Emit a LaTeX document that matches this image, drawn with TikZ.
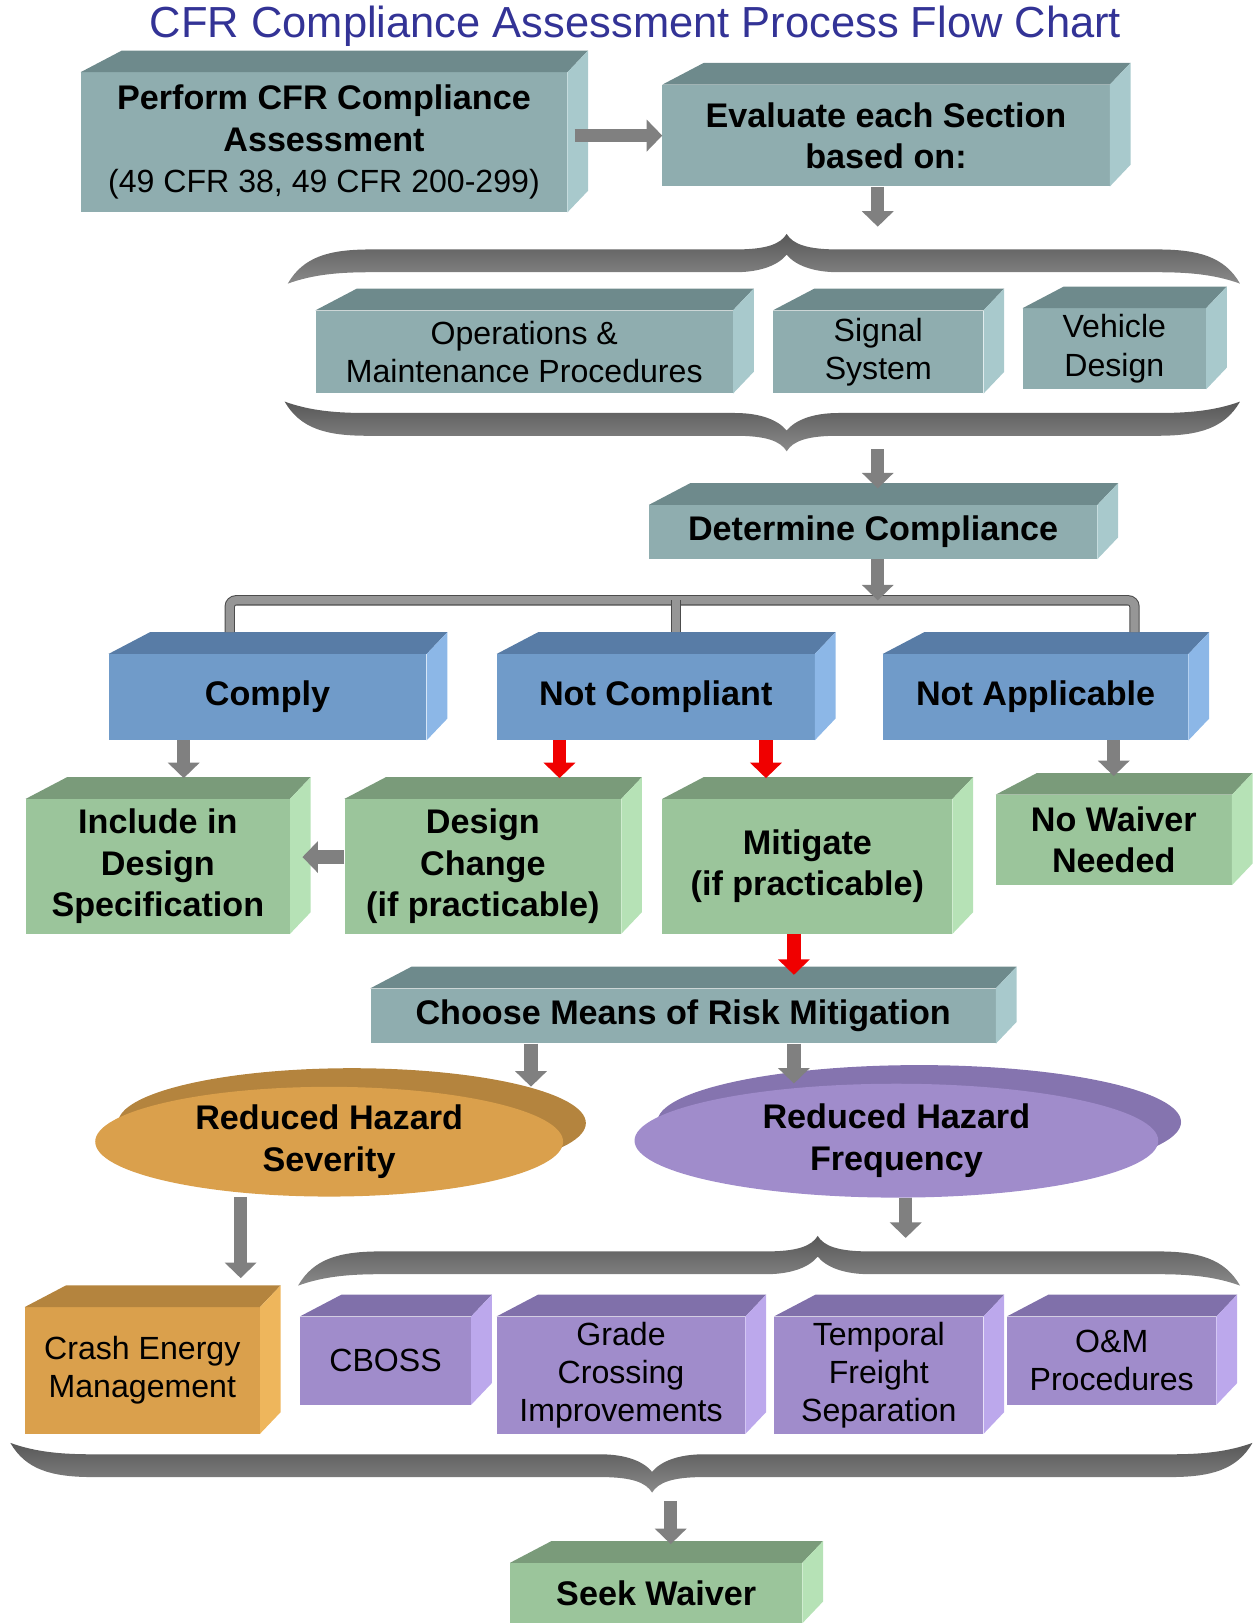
\documentclass[tikz,border=0pt]{standalone}
\usepackage{fontspec}
\setmainfont{Liberation Sans}
\usepackage{xcolor}
\usepackage{tikz}
\usetikzlibrary{positioning,arrows.meta,calc,shapes.geometric}

\definecolor{frontteal}{RGB}{143,173,175}
\definecolor{topteal}{RGB}{110,138,140}
\definecolor{sideteal}{RGB}{168,201,204}
\definecolor{frontblue}{RGB}{112,155,201}
\definecolor{topblue}{RGB}{88,124,166}
\definecolor{sideblue}{RGB}{140,183,231}
\definecolor{frontgreen}{RGB}{155,197,155}
\definecolor{topgreen}{RGB}{122,155,122}
\definecolor{sidegreen}{RGB}{182,226,182}
\definecolor{frontorange}{RGB}{218,160,76}
\definecolor{toporange}{RGB}{180,132,62}
\definecolor{sideorange}{RGB}{238,182,92}
\definecolor{frontpurple}{RGB}{160,140,203}
\definecolor{toppurple}{RGB}{128,112,170}
\definecolor{sidepurple}{RGB}{188,168,236}
\definecolor{titleblue}{RGB}{51,51,150}
\definecolor{arrowgray}{RGB}{128,128,128}
\definecolor{arrowred}{RGB}{240,0,0}
\definecolor{forkgray}{RGB}{150,150,150}
\definecolor{bracedark}{RGB}{88,88,88}
\definecolor{bracelight}{RGB}{138,138,138}

\newcommand{\boldtext}{\bfseries\fontsize{33}{40}\selectfont}
\newcommand{\plaintext}{\mdseries\fontsize{31}{37}\selectfont}
\newcommand{\titletext}{\fontsize{42}{50}\selectfont}

% curly brace band: left x, tip x, right x, centre y, direction (1 = tip up, -1 = tip down)
\newcommand{\flowbrace}[5]{%
  \shade[top color=bracedark, bottom color=bracelight]
    ({#1},{#4+(#5)*22})
    .. controls ({#1+15},{#4+(#5)*(-4)}) and ({#1+40},{#4+(#5)*(-11)}) .. ({#1+80},{#4+(#5)*(-11)})
    -- ({#2-50},{#4+(#5)*(-11)})
    .. controls ({#2-20},{#4+(#5)*(-11)}) and ({#2-6},{#4+(#5)*(-16)}) .. ({#2},{#4+(#5)*(-26)})
    .. controls ({#2+6},{#4+(#5)*(-16)}) and ({#2+20},{#4+(#5)*(-11)}) .. ({#2+50},{#4+(#5)*(-11)})
    -- ({#3-80},{#4+(#5)*(-11)})
    .. controls ({#3-40},{#4+(#5)*(-11)}) and ({#3-15},{#4+(#5)*(-4)}) .. ({#3},{#4+(#5)*22})
    .. controls ({#3-25},{#4+(#5)*13}) and ({#3-50},{#4+(#5)*11}) .. ({#3-80},{#4+(#5)*11})
    -- ({#2+50},{#4+(#5)*11})
    .. controls ({#2+25},{#4+(#5)*11}) and ({#2+8},{#4+(#5)*4}) .. ({#2},{#4+(#5)*(-6)})
    .. controls ({#2-8},{#4+(#5)*4}) and ({#2-25},{#4+(#5)*11}) .. ({#2-50},{#4+(#5)*11})
    -- ({#1+80},{#4+(#5)*11})
    .. controls ({#1+50},{#4+(#5)*11}) and ({#1+25},{#4+(#5)*13}) .. ({#1},{#4+(#5)*22})
    -- cycle;
}

\begin{document}
\begin{tikzpicture}[
    x=1pt, y=-1pt,
    box/.style={rectangle, inner sep=0pt, align=center, text=black, font=\boldtext},
    plainbox/.style={box, font=\plaintext},
    disc/.style={ellipse, inner sep=0pt, align=center, text=black, font=\boldtext},
    blockarrow/.style={line width=13pt, draw=arrowgray, -{Triangle[length=15pt, width=30pt]}},
    redarrow/.style={blockarrow, draw=arrowred},
    forkline/.style={line width=8pt, draw=forkgray, rounded corners=6pt,
      preaction={draw=gray!60!black, line width=10pt}}
]
\useasboundingbox (0,0) rectangle (1213,1568);

\node[font=\titletext, text=titleblue] (title) at (614,25) {CFR Compliance Assessment Process Flow Chart};

% braces
\flowbrace{278}{760}{1198}{252}{1}
\flowbrace{275}{760}{1198}{410}{-1}
\flowbrace{288}{790}{1198}{1220}{1}
\flowbrace{10}{630}{1210}{1416}{-1}

\coordinate (bracetop) at (848,219);
\coordinate (bracebot) at (848,434);
\coordinate (bracelow) at (875,1196);
\coordinate (bracelast) at (648,1450);

% front faces
\node[box, fill=frontteal, minimum width=470pt, minimum height=135pt] (perform) at (313,137.5) {Perform CFR Compliance\\Assessment\\{\plaintext (49 CFR 38, 49 CFR 200-299)}};
\node[box, fill=frontteal, minimum width=432pt, minimum height=98pt] (evaluate) at (856,131) {Evaluate each Section\\based on:};
\node[plainbox, fill=frontteal, minimum width=403pt, minimum height=80pt] (opsmaint) at (506.5,340) {Operations \&\\Maintenance Procedures};
\node[plainbox, fill=frontteal, minimum width=203pt, minimum height=80pt] (signal) at (848.5,340) {Signal\\System};
\node[plainbox, fill=frontteal, minimum width=177pt, minimum height=78pt] (vehicle) at (1076.5,337) {Vehicle\\Design};
\node[box, fill=frontteal, minimum width=433pt, minimum height=52pt] (determine) at (843.5,514) {Determine Compliance};

\node[box, fill=frontblue, minimum width=307pt, minimum height=83pt] (comply) at (258.5,673.5) {Comply};
\node[box, fill=frontblue, minimum width=307pt, minimum height=83pt] (notcompliant) at (633.5,673.5) {Not Compliant};
\node[box, fill=frontblue, minimum width=295pt, minimum height=83pt] (notapplicable) at (1000.5,673.5) {Not Applicable};

\node[box, fill=frontgreen, minimum width=255pt, minimum height=130pt] (include) at (152.5,837) {Include in\\Design\\Specification};
\node[box, fill=frontgreen, minimum width=267pt, minimum height=130pt] (designchange) at (466.5,837) {Design\\Change\\(if practicable)};
\node[box, fill=frontgreen, minimum width=280pt, minimum height=130pt] (mitigate) at (780,837) {Mitigate\\(if practicable)};
\node[box, fill=frontgreen, minimum width=228pt, minimum height=87pt] (nowaiver) at (1076,811.5) {No Waiver\\Needed};

\node[box, fill=frontteal, minimum width=604pt, minimum height=53pt] (choose) at (660,981.5) {Choose Means of Risk Mitigation};

\fill[toporange] (340,1085) ellipse [x radius=226pt, y radius=53pt];
\node[disc, fill=frontorange, minimum width=452pt, minimum height=106pt] (severity) at (318,1103) {Reduced Hazard\\Severity};
\fill[toppurple!85!frontpurple] (888,1084) ellipse [x radius=253pt, y radius=55pt];
\node[disc, fill=frontpurple, minimum width=506pt, minimum height=110pt] (frequency) at (866,1102) {Reduced Hazard\\Frequency};

\node[plainbox, fill=frontorange, minimum width=227pt, minimum height=122pt] (crash) at (137.5,1324) {Crash Energy\\Management};
\node[plainbox, fill=frontpurple, minimum width=165pt, minimum height=85pt] (cboss) at (372.5,1314.5) {CBOSS};
\node[plainbox, fill=frontpurple, minimum width=240pt, minimum height=113pt] (grade) at (600,1328.5) {Grade\\Crossing\\Improvements};
\node[plainbox, fill=frontpurple, minimum width=202pt, minimum height=113pt] (temporal) at (849,1328.5) {Temporal\\Freight\\Separation};
\node[plainbox, fill=frontpurple, minimum width=202pt, minimum height=85pt] (omproc) at (1074,1314.5) {O\&M\\Procedures};

\node[box, fill=frontgreen, minimum width=282pt, minimum height=58pt] (seek) at (634,1539) {Seek Waiver};

% top and side faces
\foreach \n/\c in {perform/teal, evaluate/teal, opsmaint/teal, signal/teal, vehicle/teal,
    determine/teal, comply/blue, notcompliant/blue, notapplicable/blue, include/green,
    designchange/green, mitigate/green, nowaiver/green, choose/teal, crash/orange,
    cboss/purple, grade/purple, temporal/purple, omproc/purple, seek/green}{
  \fill[top\c] (\n.north west) -- ++(40,-21) -- ([shift={(20,-21)}]\n.north east) -- (\n.north east) -- cycle;
  \fill[side\c] (\n.north east) -- ++(20,-21) -- ([shift={(20,-21)}]\n.south east) -- (\n.south east) -- cycle;
}

% fork
\coordinate (forkleft) at (222,580);
\coordinate (forkcentre) at (653,580);
\coordinate (forkright) at (1096,580);
\coordinate (fork) at (848,580);
\draw[forkline] ([yshift=21pt]comply.north -| forkleft) -- (forkleft) -- (forkright) -- ([yshift=21pt]notapplicable.north -| forkright);
\draw[forkline] (forkcentre) -- ([yshift=21pt]notcompliant.north -| forkcentre);

% arrows
\draw[blockarrow, shorten <=7pt] (perform.east |- evaluate.west) -- (evaluate.west);
\draw[blockarrow] (evaluate.south -| bracetop) -- (bracetop);
\draw[blockarrow, shorten >=16pt] (bracebot) -- (bracebot |- determine.north);
\draw[blockarrow] (determine.south -| fork) -- (fork);

\draw[blockarrow, shorten >=20pt] ([xshift=25pt]include.north |- comply.south) -- ([xshift=25pt]include.north);
\draw[redarrow, shorten >=20pt] ([xshift=74pt]designchange.north |- notcompliant.south) -- ([xshift=74pt]designchange.north);
\draw[redarrow, shorten >=20pt] ([xshift=-40pt]mitigate.north |- notcompliant.south) -- ([xshift=-40pt]mitigate.north);
\draw[blockarrow, shorten >=18pt] (nowaiver.north |- notapplicable.south) -- (nowaiver.north);
\draw[blockarrow, shorten >=12pt] ([yshift=9pt]designchange.west) -- ([yshift=9pt]include.east);

\draw[redarrow, shorten >=13pt] ([xshift=-13pt]mitigate.south) -- ([xshift=-13pt]mitigate.south |- choose.north);
\draw[blockarrow] ([xshift=-147pt]choose.south) -- ([xshift=-147pt]choose.south |- severity.north);
\draw[blockarrow] ([xshift=107pt]choose.south) -- ([xshift=107pt]choose.south |- frequency.north);

\draw[blockarrow, shorten >=28pt] ([xshift=95pt]crash.north |- severity.south) -- ([xshift=95pt]crash.north);
\draw[blockarrow] (frequency.south -| bracelow) -- (bracelow);
\draw[blockarrow, shorten >=18pt] (bracelast) -- (bracelast |- seek.north);

\end{tikzpicture}
\end{document}
